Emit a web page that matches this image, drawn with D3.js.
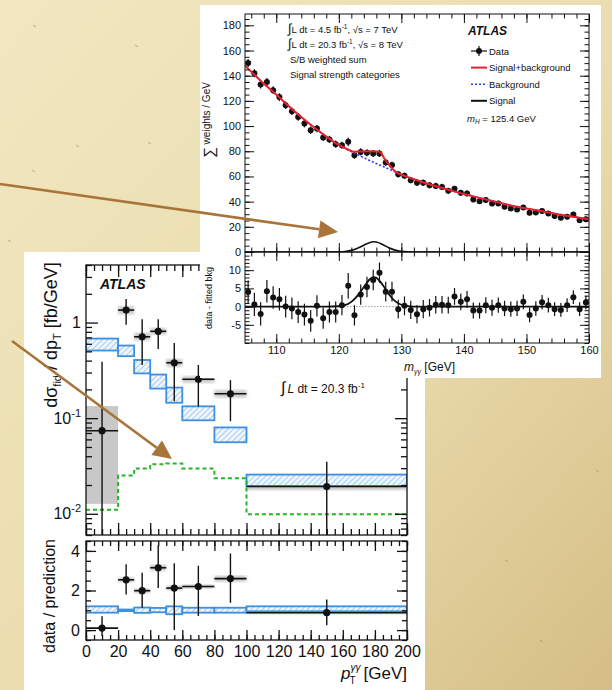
<!DOCTYPE html>
<html>
<head>
<meta charset="utf-8">
<script src="https://d3js.org/d3.v7.min.js"></script>
<style>
  body { margin: 0; }
  svg text { font-family: "Liberation Sans", Arial, sans-serif; }
</style>
</head>
<body>
<script>
// ---------- top-right figure: diphoton mass ----------
var massBins = d3.range(105.5, 160, 1);
var sumWeights = [150,142,133,135,128.5,123,116.6,111.8,107.3,102,96.7,98,91,89.4,85.6,84.8,87.5,76.9,79.5,78.8,
  78.2,78.3,71.1,69,61.8,60.5,57,55,55,53,52.5,51.7,48.6,50.2,47,46.5,41.7,40.4,41.2,38.6,
  38.6,35.9,34.6,33.8,35.4,31.1,31.4,32.5,30.6,28.5,27.2,28,29.8,25.3,26.1];
var residuals = [4.0,0.6,-2.0,4.2,2.5,2.0,0,-0.5,-1.5,-2.2,-3.9,0.2,-3.2,-1.5,-1.5,0.4,5.7,-2.4,3.3,5.4,
  7.3,9.3,4.1,4.1,-0.7,0.2,-0.9,-2.1,-0.7,-0.3,0.5,0.5,0.4,2.8,1.3,2.0,-1.1,-1.1,0.4,-0.3,
  0.4,-0.5,-0.7,-0.5,1.3,-2.3,-0.5,1.2,0.4,-0.7,-0.9,0.4,2.6,-0.7,1.1];
var massErr = [3.2,3.2,3.2,3.1,3.1,3.1,3.0,3.0,3.0,3.0,3.0,2.9,2.9,2.9,2.9,2.8,3.5,2.8,2.8,2.8,
  2.8,2.8,2.7,2.7,2.6,2.6,2.5,2.5,2.5,2.4,2.4,2.4,2.3,2.3,2.3,2.3,2.2,2.2,2.2,2.2,
  2.1,2.1,2.1,2.1,2.0,2.0,2.0,2.0,2.0,1.9,1.9,1.9,1.9,1.9,1.9];
var bkgMass = [105,107.5,110,112.5,115,117.5,120,122.5,125,127.5,130,132.5,135,137.5,140,142.5,145,147.5,150,152.5,155,157.5,160];
var bkgVal  = [148,136,125,113.5,103,93.5,85,78.5,72.5,67,61.5,57,53,49.5,46,43,40,37,34.6,32.3,30,28,26];
var sbMass = [105,107.5,110,112.5,115,117.5,120,121,122,122.5,123.5,124.5,125.5,126.5,127.5,128.5,129.2,130,132.5,135,137.5,140,142.5,145,147.5,150,152.5,155,157.5,160];
var sbVal  = [148,136,125,113.5,103,93.5,85,82.5,80.2,79.6,79.8,80,80,79.6,72.5,66.5,63.2,61.5,57,53,49.5,46,43,40,37,34.6,32.3,30,28,26];
var sigMass = [105,118,120,121,122,123,124,125,125.5,126,127,128,129,130,131,133,160];
var sigVal  = [0,0,0.1,0.4,1.3,3.0,5.4,7.6,8.1,7.9,6.0,3.4,1.5,0.5,0.15,0,0];
var massTicks = [110,120,130,140,150,160];
var weightTicks = [0,20,40,60,80,100,120,140,160,180];
var residTicks = [-5,0,5,10];
var legendNames = ["Data","Signal+background","Background","Signal"];

// ---------- bottom-left figure: pT(gamma gamma) ----------
var ptEdges = [0,20,30,40,50,60,80,100,200];
var xsVal   = [0.074,1.35,0.71,0.81,0.38,0.255,0.18,0.0193];
var xsUp    = [0.39,1.76,1.08,1.08,0.61,0.36,0.25,0.035];
var xsDn    = [0.001,0.95,0.36,0.53,0.15,0.133,0.093,0.001];
var xsSysLo = [0.0127,1.22,0.65,0.75,0.345,0.235,0.165,0.0178];
var xsSysHi = [0.134,1.48,0.78,0.88,0.415,0.275,0.197,0.0205];
var predLo  = [0.51,0.445,0.294,0.204,0.145,0.095,0.056,0.0195];
var predHi  = [0.68,0.575,0.406,0.286,0.209,0.133,0.080,0.0257];
var bkgOther = [0.0110,0.0252,0.0297,0.033,0.0336,0.0297,0.0236,0.0099];
var ratioVal = [0.1,2.54,1.99,3.15,2.12,2.2,2.6,0.88];
var ratioUp  = [0.7,3.32,2.9,4.28,3.37,3.25,3.87,1.54];
var ratioDn  = [-0.3,1.8,1.13,2.12,0.0,0.71,1.38,0.25];
var ratioSysLo = [0.1,2.42,1.88,3.0,2.0,2.1,2.45,0.82];
var ratioSysHi = [0.1,2.66,2.1,3.3,2.24,2.3,2.75,0.92];
var ratioPredLo = [0.88,0.96,0.87,0.9,0.8,0.88,0.88,0.95];
var ratioPredHi = [1.2,1.04,1.14,1.12,1.2,1.13,1.13,1.2];
var ptTicks = [0,20,40,60,80,100,120,140,160,180,200];
var ratioTicks = [0,2,4];

var svg = d3.select("body").append("svg").attr("width", 612).attr("height", 690);
var defs = svg.append("defs");

// parchment
var grad = defs.append("linearGradient").attr("id", "paper")
  .attr("x1", "0").attr("y1", "0").attr("x2", "1").attr("y2", "1");
grad.append("stop").attr("offset", "0%").attr("stop-color", "#f2e7c1");
grad.append("stop").attr("offset", "55%").attr("stop-color", "#eadcae");
grad.append("stop").attr("offset", "100%").attr("stop-color", "#d5be85");

var hatch = defs.append("pattern").attr("id", "hatch").attr("patternUnits", "userSpaceOnUse")
  .attr("width", 4).attr("height", 4).attr("patternTransform", "rotate(45)");
hatch.append("rect").attr("width", 4).attr("height", 4).attr("fill", "#eef5fc");
hatch.append("line").attr("x1", 0).attr("y1", 0).attr("x2", 0).attr("y2", 4)
  .attr("stroke", "#9cc2e8").attr("stroke-width", 1.6);

defs.append("filter").attr("id", "soft").append("feGaussianBlur").attr("stdDeviation", 1.4);

svg.append("rect").attr("width", 612).attr("height", 690).attr("fill", "url(#paper)");
// a few paper specks
[[33,25],[135,45],[76,145],[32,170],[148,142],[560,140],[590,230],[596,470],[505,560],[540,640],[8,240]].forEach(function (p) {
  svg.append("line").attr("x1", p[0]).attr("y1", p[1]).attr("x2", p[0] + 3).attr("y2", p[1] + 2)
    .attr("stroke", "#9a9070").attr("stroke-width", 1.2).attr("opacity", 0.5);
});

// generic frame with inward ticks
function frameAxes(g, xs, ys, o) {
  var x0 = xs.range()[0], x1 = xs.range()[1];
  var yb = ys.range()[0], yt = ys.range()[1];
  function style(sel, fs) {
    sel.select(".domain").remove();
    sel.selectAll("line").attr("stroke", "#111").attr("stroke-width", o.sw);
    sel.attr("font-family", null).attr("font-size", fs);
    sel.selectAll("text").attr("fill", "#111");
  }
  var sides = [
    [d3.axisBottom(xs), "translate(0," + yb + ")", o.xMajor, o.xMinor, o.xLabels],
    [d3.axisTop(xs), "translate(0," + yt + ")", o.xMajor, o.xMinor, false],
    [d3.axisLeft(ys), "translate(" + x0 + ",0)", o.yMajor, o.yMinor, true],
    [d3.axisRight(ys), "translate(" + x1 + ",0)", o.yMajor, o.yMinor, false]
  ];
  sides.forEach(function (s, i) {
    var isY = i > 1;
    var fmt = s[4] ? (isY ? o.yFmt : o.xFmt) : "";
    var major = g.append("g").attr("transform", s[1])
      .call(s[0].tickValues(isY ? s[2] : s[2]).tickSize(-o.maj).tickSizeOuter(0)
        .tickPadding(isY ? o.padY : o.padX).tickFormat(fmt));
    style(major, o.fs);
    var minAxis = (i === 0 ? d3.axisBottom(xs) : i === 1 ? d3.axisTop(xs) : i === 2 ? d3.axisLeft(ys) : d3.axisRight(ys));
    var minor = g.append("g").attr("transform", s[1])
      .call(minAxis.tickValues(s[3]).tickSize(-o.min).tickSizeOuter(0).tickFormat(""));
    style(minor, o.fs);
    if (s[4] && o.after) o.after(major, isY);
  });
  g.append("rect").attr("x", x0).attr("y", yt).attr("width", x1 - x0).attr("height", yb - yt)
    .attr("fill", "none").attr("stroke", "#111").attr("stroke-width", o.sw);
}

// ================= bottom-left figure =================
svg.append("rect").attr("x", 24).attr("y", 252).attr("width", 401).attr("height", 438).attr("fill", "#fff");

var xL = d3.scaleLinear().domain([0, 200]).range([86, 407]);
var yL = d3.scaleLog().domain([0.006, 4]).range([535, 265]);
var yR = d3.scaleLinear().domain([-0.5, 4.5]).range([640, 541]);

defs.append("clipPath").attr("id", "clipL").append("rect").attr("x", 86).attr("y", 265).attr("width", 321).attr("height", 270);
defs.append("clipPath").attr("id", "clipR").append("rect").attr("x", 86).attr("y", 541).attr("width", 321).attr("height", 99);

var bins = ptEdges.slice(0, -1).map(function (lo, i) { return { lo: lo, hi: ptEdges[i + 1], i: i }; });

var gL = svg.append("g").attr("clip-path", "url(#clipL)");
// systematic grey boxes
gL.selectAll("rect.sys").data(bins).enter().append("rect")
  .attr("x", function (d) { return xL(d.lo); })
  .attr("width", function (d) { return xL(d.hi) - xL(d.lo); })
  .attr("y", function (d) { return yL(xsSysHi[d.i]); })
  .attr("height", function (d) { return yL(xsSysLo[d.i]) - yL(xsSysHi[d.i]); })
  .attr("fill", function (d) { return d.i === 0 ? "#c8c8c8" : "#b4b4b4"; })
  .attr("opacity", function (d) { return d.i === 0 ? 1 : 0.75; })
  .attr("filter", function (d) { return d.i === 0 ? null : "url(#soft)"; });
// prediction boxes
gL.selectAll("rect.pred").data(bins).enter().append("rect")
  .attr("x", function (d) { return xL(d.lo); })
  .attr("width", function (d) { return xL(d.hi) - xL(d.lo); })
  .attr("y", function (d) { return yL(predHi[d.i]); })
  .attr("height", function (d) { return yL(predLo[d.i]) - yL(predHi[d.i]); })
  .attr("fill", "url(#hatch)").attr("stroke", "#3d8fe0").attr("stroke-width", 1.8);
// green dashed step line
var stepPts = [];
bins.forEach(function (d) { stepPts.push([d.lo, bkgOther[d.i]]); stepPts.push([d.hi, bkgOther[d.i]]); });
gL.append("path").datum(stepPts)
  .attr("d", d3.line().x(function (p) { return xL(p[0]); }).y(function (p) { return yL(p[1]); }))
  .attr("fill", "none").attr("stroke", "#27b427").attr("stroke-width", 2).attr("stroke-dasharray", "4,3");
// data
gL.selectAll("line.hbar").data(bins).enter().append("line")
  .attr("x1", function (d) { return xL(d.lo); }).attr("x2", function (d) { return xL(d.hi); })
  .attr("y1", function (d) { return yL(xsVal[d.i]); }).attr("y2", function (d) { return yL(xsVal[d.i]); })
  .attr("stroke", "#111").attr("stroke-width", 1.6);
gL.selectAll("line.vbar").data(bins).enter().append("line")
  .attr("x1", function (d) { return xL((d.lo + d.hi) / 2); }).attr("x2", function (d) { return xL((d.lo + d.hi) / 2); })
  .attr("y1", function (d) { return yL(xsUp[d.i]); }).attr("y2", function (d) { return yL(xsDn[d.i]); })
  .attr("stroke", "#111").attr("stroke-width", 1.4);
gL.selectAll("circle").data(bins).enter().append("circle")
  .attr("cx", function (d) { return xL((d.lo + d.hi) / 2); })
  .attr("cy", function (d) { return yL(xsVal[d.i]); })
  .attr("r", 3.6).attr("fill", "#111");

var logMajor = [0.01, 0.1, 1];
var logMinor = [];
[0.001, 0.01, 0.1, 1].forEach(function (dec) {
  d3.range(2, 10).forEach(function (m) { var v = m * dec; if (v >= 0.006 && v <= 4 && logMajor.indexOf(v) < 0) logMinor.push(v); });
});
var ptMinor = d3.range(0, 201, 5);

frameAxes(svg.append("g"), xL, yL, {
  xMajor: ptTicks, xMinor: ptMinor, yMajor: logMajor, yMinor: logMinor,
  xLabels: false, yFmt: function (d) { return d; }, maj: 12, min: 6, sw: 1.3, fs: 16, padX: 6, padY: 5,
  after: function (ax, isY) {
    if (!isY) return;
    ax.selectAll("text").each(function (d) {
      var t = d3.select(this);
      if (d < 0.5) {
        t.text("10");
        t.append("tspan").attr("dy", -7).attr("font-size", 11).text(Math.round(Math.log10(d)));
      } else t.text("1");
    });
  }
});

var gR = svg.append("g").attr("clip-path", "url(#clipR)");
gR.selectAll("rect.sys").data(bins.filter(function (d) { return d.i > 0; })).enter().append("rect")
  .attr("x", function (d) { return xL(d.lo); })
  .attr("width", function (d) { return xL(d.hi) - xL(d.lo); })
  .attr("y", function (d) { return yR(ratioSysHi[d.i]); })
  .attr("height", function (d) { return yR(ratioSysLo[d.i]) - yR(ratioSysHi[d.i]); })
  .attr("fill", "#b4b4b4").attr("opacity", 0.75).attr("filter", "url(#soft)");
gR.selectAll("rect.pred").data(bins).enter().append("rect")
  .attr("x", function (d) { return xL(d.lo); })
  .attr("width", function (d) { return xL(d.hi) - xL(d.lo); })
  .attr("y", function (d) { return yR(ratioPredHi[d.i]); })
  .attr("height", function (d) { return yR(ratioPredLo[d.i]) - yR(ratioPredHi[d.i]); })
  .attr("fill", "url(#hatch)").attr("stroke", "#3d8fe0").attr("stroke-width", 1.8);
gR.selectAll("line.hbar").data(bins).enter().append("line")
  .attr("x1", function (d) { return xL(d.lo); }).attr("x2", function (d) { return xL(d.hi); })
  .attr("y1", function (d) { return yR(ratioVal[d.i]); }).attr("y2", function (d) { return yR(ratioVal[d.i]); })
  .attr("stroke", "#111").attr("stroke-width", 1.6);
gR.selectAll("line.vbar").data(bins).enter().append("line")
  .attr("x1", function (d) { return xL((d.lo + d.hi) / 2); }).attr("x2", function (d) { return xL((d.lo + d.hi) / 2); })
  .attr("y1", function (d) { return yR(ratioUp[d.i]); }).attr("y2", function (d) { return yR(ratioDn[d.i]); })
  .attr("stroke", "#111").attr("stroke-width", 1.4);
gR.selectAll("circle").data(bins).enter().append("circle")
  .attr("cx", function (d) { return xL((d.lo + d.hi) / 2); })
  .attr("cy", function (d) { return yR(ratioVal[d.i]); })
  .attr("r", 3.6).attr("fill", "#111");

frameAxes(svg.append("g"), xL, yR, {
  xMajor: ptTicks, xMinor: ptMinor, yMajor: ratioTicks, yMinor: d3.range(-0.5, 4.6, 0.5),
  xLabels: true, xFmt: function (d) { return d; }, yFmt: function (d) { return d; },
  maj: 10, min: 5, sw: 1.3, fs: 16, padX: 6, padY: 6
});

// texts, bottom-left
svg.append("text").attr("x", 100).attr("y", 289).attr("font-size", 14).attr("font-weight", "bold")
  .attr("font-style", "italic").attr("fill", "#111").text("ATLAS");
var lumi = svg.append("text").attr("x", 281).attr("y", 393).attr("font-size", 12).attr("fill", "#111");
lumi.append("tspan").attr("font-size", 16).text("∫");
lumi.append("tspan").attr("font-style", "italic").attr("dx", 2).text("L");
lumi.append("tspan").text(" dt = 20.3 fb");
lumi.append("tspan").attr("dy", -5).attr("font-size", 8).text("-1");

var yl = svg.append("text").attr("transform", "translate(57,335) rotate(-90)").attr("text-anchor", "middle")
  .attr("font-size", 18).attr("fill", "#111");
yl.append("tspan").text("dσ");
yl.append("tspan").attr("font-size", 11).attr("dy", 4).text("fid");
yl.append("tspan").attr("dy", -4).text(" / dp");
yl.append("tspan").attr("font-size", 11).attr("dy", 4).text("T");
yl.append("tspan").attr("dy", -4).text("  [fb/GeV]");

svg.append("text").attr("transform", "translate(55,596) rotate(-90)").attr("text-anchor", "middle")
  .attr("font-size", 16).attr("fill", "#111").text("data / prediction");

var xl = svg.append("text").attr("x", 407).attr("y", 679).attr("text-anchor", "end")
  .attr("font-size", 17).attr("fill", "#111");
xl.append("tspan").attr("font-style", "italic").text("p");
xl.append("tspan").attr("font-size", 10).attr("font-style", "italic").attr("dy", -8).text("γγ");
xl.append("tspan").attr("font-size", 10).attr("dx", -11).attr("dy", 13).text("T");
xl.append("tspan").attr("dx", 8).attr("dy", -5).text("[GeV]");

// ================= top-right figure =================
svg.append("rect").attr("x", 200).attr("y", 5).attr("width", 401).attr("height", 373).attr("fill", "#fff");

var xM = d3.scaleLinear().domain([105, 160]).range([245, 589]);
var yM = d3.scaleLinear().domain([0, 189]).range([252, 14]);
var yD = d3.scaleLinear().domain([-10, 15]).range([343, 252]);

defs.append("clipPath").attr("id", "clipM").append("rect").attr("x", 245).attr("y", 14).attr("width", 344).attr("height", 238);
defs.append("clipPath").attr("id", "clipD").append("rect").attr("x", 245).attr("y", 252).attr("width", 344).attr("height", 91);

var pts = massBins.map(function (m, i) { return { m: m, v: sumWeights[i], r: residuals[i], e: massErr[i] }; });
var gM = svg.append("g").attr("clip-path", "url(#clipM)");

var lineMass = function (ys) {
  return d3.line().curve(d3.curveMonotoneX).x(function (p) { return xM(p[0]); }).y(function (p) { return ys(p[1]); });
};
gM.append("path").datum(sigMass.map(function (m, i) { return [m, sigVal[i]]; }))
  .attr("d", lineMass(yM)).attr("fill", "none").attr("stroke", "#111").attr("stroke-width", 1.6);
gM.selectAll("line.err").data(pts).enter().append("line")
  .attr("x1", function (d) { return xM(d.m); }).attr("x2", function (d) { return xM(d.m); })
  .attr("y1", function (d) { return yM(d.v + d.e); }).attr("y2", function (d) { return yM(d.v - d.e); })
  .attr("stroke", "#111").attr("stroke-width", 1.2);
gM.selectAll("circle").data(pts).enter().append("circle")
  .attr("cx", function (d) { return xM(d.m); }).attr("cy", function (d) { return yM(d.v); })
  .attr("r", 3).attr("fill", "#111");
gM.append("path").datum(bkgMass.map(function (m, i) { return [m, bkgVal[i]]; }))
  .attr("d", lineMass(yM)).attr("fill", "none").attr("stroke", "#2a3cf0").attr("stroke-width", 1.6)
  .attr("stroke-dasharray", "2,2");
gM.append("path").datum(sbMass.map(function (m, i) { return [m, sbVal[i]]; }))
  .attr("d", lineMass(yM)).attr("fill", "none").attr("stroke", "#e8202a").attr("stroke-width", 2);

var gD = svg.append("g").attr("clip-path", "url(#clipD)");
gD.append("line").attr("x1", xM(105)).attr("x2", xM(160)).attr("y1", yD(0)).attr("y2", yD(0))
  .attr("stroke", "#888").attr("stroke-width", 0.8).attr("stroke-dasharray", "1.5,1.5");
gD.append("path").datum(sigMass.map(function (m, i) { return [m, sigVal[i]]; }))
  .attr("d", lineMass(yD)).attr("fill", "none").attr("stroke", "#111").attr("stroke-width", 1.8);
gD.selectAll("line.err").data(pts).enter().append("line")
  .attr("x1", function (d) { return xM(d.m); }).attr("x2", function (d) { return xM(d.m); })
  .attr("y1", function (d) { return yD(d.r + d.e); }).attr("y2", function (d) { return yD(d.r - d.e); })
  .attr("stroke", "#111").attr("stroke-width", 1.2);
gD.selectAll("circle").data(pts).enter().append("circle")
  .attr("cx", function (d) { return xM(d.m); }).attr("cy", function (d) { return yD(d.r); })
  .attr("r", 3).attr("fill", "#111");

var massMinor = d3.range(106, 161, 2);
frameAxes(svg.append("g"), xM, yM, {
  xMajor: massTicks, xMinor: massMinor, yMajor: weightTicks, yMinor: d3.range(5, 189, 5),
  xLabels: false, yFmt: function (d) { return d; }, maj: 9, min: 4.5, sw: 1, fs: 11, padX: 4, padY: 4
});
frameAxes(svg.append("g"), xM, yD, {
  xMajor: massTicks, xMinor: massMinor, yMajor: residTicks, yMinor: d3.range(-10, 16, 1),
  xLabels: true, xFmt: function (d) { return d; }, yFmt: function (d) { return d; },
  maj: 9, min: 4.5, sw: 1, fs: 11, padX: 3, padY: 4
});

// texts, top-right
var infoLines = [
  ["∫", "L dt = 4.5 fb", "-1", ", √s = 7 TeV"],
  ["∫", "L dt = 20.3 fb", "-1", ", √s = 8 TeV"]
];
infoLines.forEach(function (l, i) {
  var t = svg.append("text").attr("x", 288).attr("y", 33 + i * 15).attr("font-size", 9.5).attr("fill", "#111");
  t.append("tspan").attr("font-size", 13).text(l[0]);
  t.append("tspan").text(l[1]);
  t.append("tspan").attr("font-size", 6.5).attr("dy", -4).text(l[2]);
  t.append("tspan").attr("dy", 4).text(l[3]);
});
svg.append("text").attr("x", 290).attr("y", 63).attr("font-size", 9.5).attr("fill", "#111").text("S/B weighted sum");
svg.append("text").attr("x", 290).attr("y", 78).attr("font-size", 9.5).attr("fill", "#111").text("Signal strength categories");

svg.append("text").attr("x", 468).attr("y", 35).attr("font-size", 12).attr("font-weight", "bold")
  .attr("font-style", "italic").attr("fill", "#111").text("ATLAS");
var leg = svg.append("g");
legendNames.forEach(function (name, i) {
  var y = 51 + i * 16.6;
  var lx0 = 471, lx1 = 487;
  if (i === 0) {
    leg.append("line").attr("x1", lx0).attr("x2", lx1).attr("y1", y).attr("y2", y).attr("stroke", "#111").attr("stroke-width", 1.2);
    leg.append("line").attr("x1", (lx0 + lx1) / 2).attr("x2", (lx0 + lx1) / 2).attr("y1", y - 5).attr("y2", y + 5).attr("stroke", "#111").attr("stroke-width", 1.2);
    leg.append("circle").attr("cx", (lx0 + lx1) / 2).attr("cy", y).attr("r", 3).attr("fill", "#111");
  } else {
    leg.append("line").attr("x1", lx0).attr("x2", lx1).attr("y1", y).attr("y2", y)
      .attr("stroke", i === 1 ? "#e8202a" : i === 2 ? "#2a3cf0" : "#111")
      .attr("stroke-width", i === 2 ? 1.6 : 2)
      .attr("stroke-dasharray", i === 2 ? "2,2" : null);
  }
  leg.append("text").attr("x", 489).attr("y", y + 3.5).attr("font-size", 9.5).attr("fill", "#111").text(name);
});
var mh = svg.append("text").attr("x", 467).attr("y", 122).attr("font-size", 9.5).attr("fill", "#111");
mh.append("tspan").attr("font-style", "italic").text("m");
mh.append("tspan").attr("font-style", "italic").attr("font-size", 6.5).attr("dy", 2).text("H");
mh.append("tspan").attr("dy", -2).text(" = 125.4 GeV");

var wl = svg.append("text").attr("transform", "translate(214,120) rotate(-90)").attr("text-anchor", "middle")
  .attr("font-size", 10).attr("fill", "#111");
wl.append("tspan").attr("font-size", 15).text("∑");
wl.append("tspan").attr("dy", -4).text(" weights / GeV");
svg.append("text").attr("transform", "translate(212,298) rotate(-90)").attr("text-anchor", "middle")
  .attr("font-size", 9).attr("fill", "#111").text("data - fitted bkg");

var ml = svg.append("text").attr("x", 404).attr("y", 371).attr("font-size", 12).attr("fill", "#111");
ml.append("tspan").attr("font-style", "italic").text("m");
ml.append("tspan").attr("font-size", 7).attr("font-style", "italic").attr("dy", 3).text("γγ");
ml.append("tspan").attr("dy", -3).text(" [GeV]");

// ================= arrows =================
function arrow(x0, y0, x1, y1) {
  var a = Math.atan2(y1 - y0, x1 - x0), L = 19, W = 9;
  var bx = x1 - L * Math.cos(a), by = y1 - L * Math.sin(a);
  svg.append("line").attr("x1", x0).attr("y1", y0).attr("x2", bx).attr("y2", by)
    .attr("stroke", "#a8743a").attr("stroke-width", 2.6);
  svg.append("path")
    .attr("d", "M" + x1 + "," + y1 + "L" + (bx + W * Math.sin(a)) + "," + (by - W * Math.cos(a)) +
      "L" + (bx - W * Math.sin(a)) + "," + (by + W * Math.cos(a)) + "Z")
    .attr("fill", "#a8743a");
}
arrow(0, 184, 338, 232);
arrow(12, 341, 172, 459);
</script>
</body>
</html>
